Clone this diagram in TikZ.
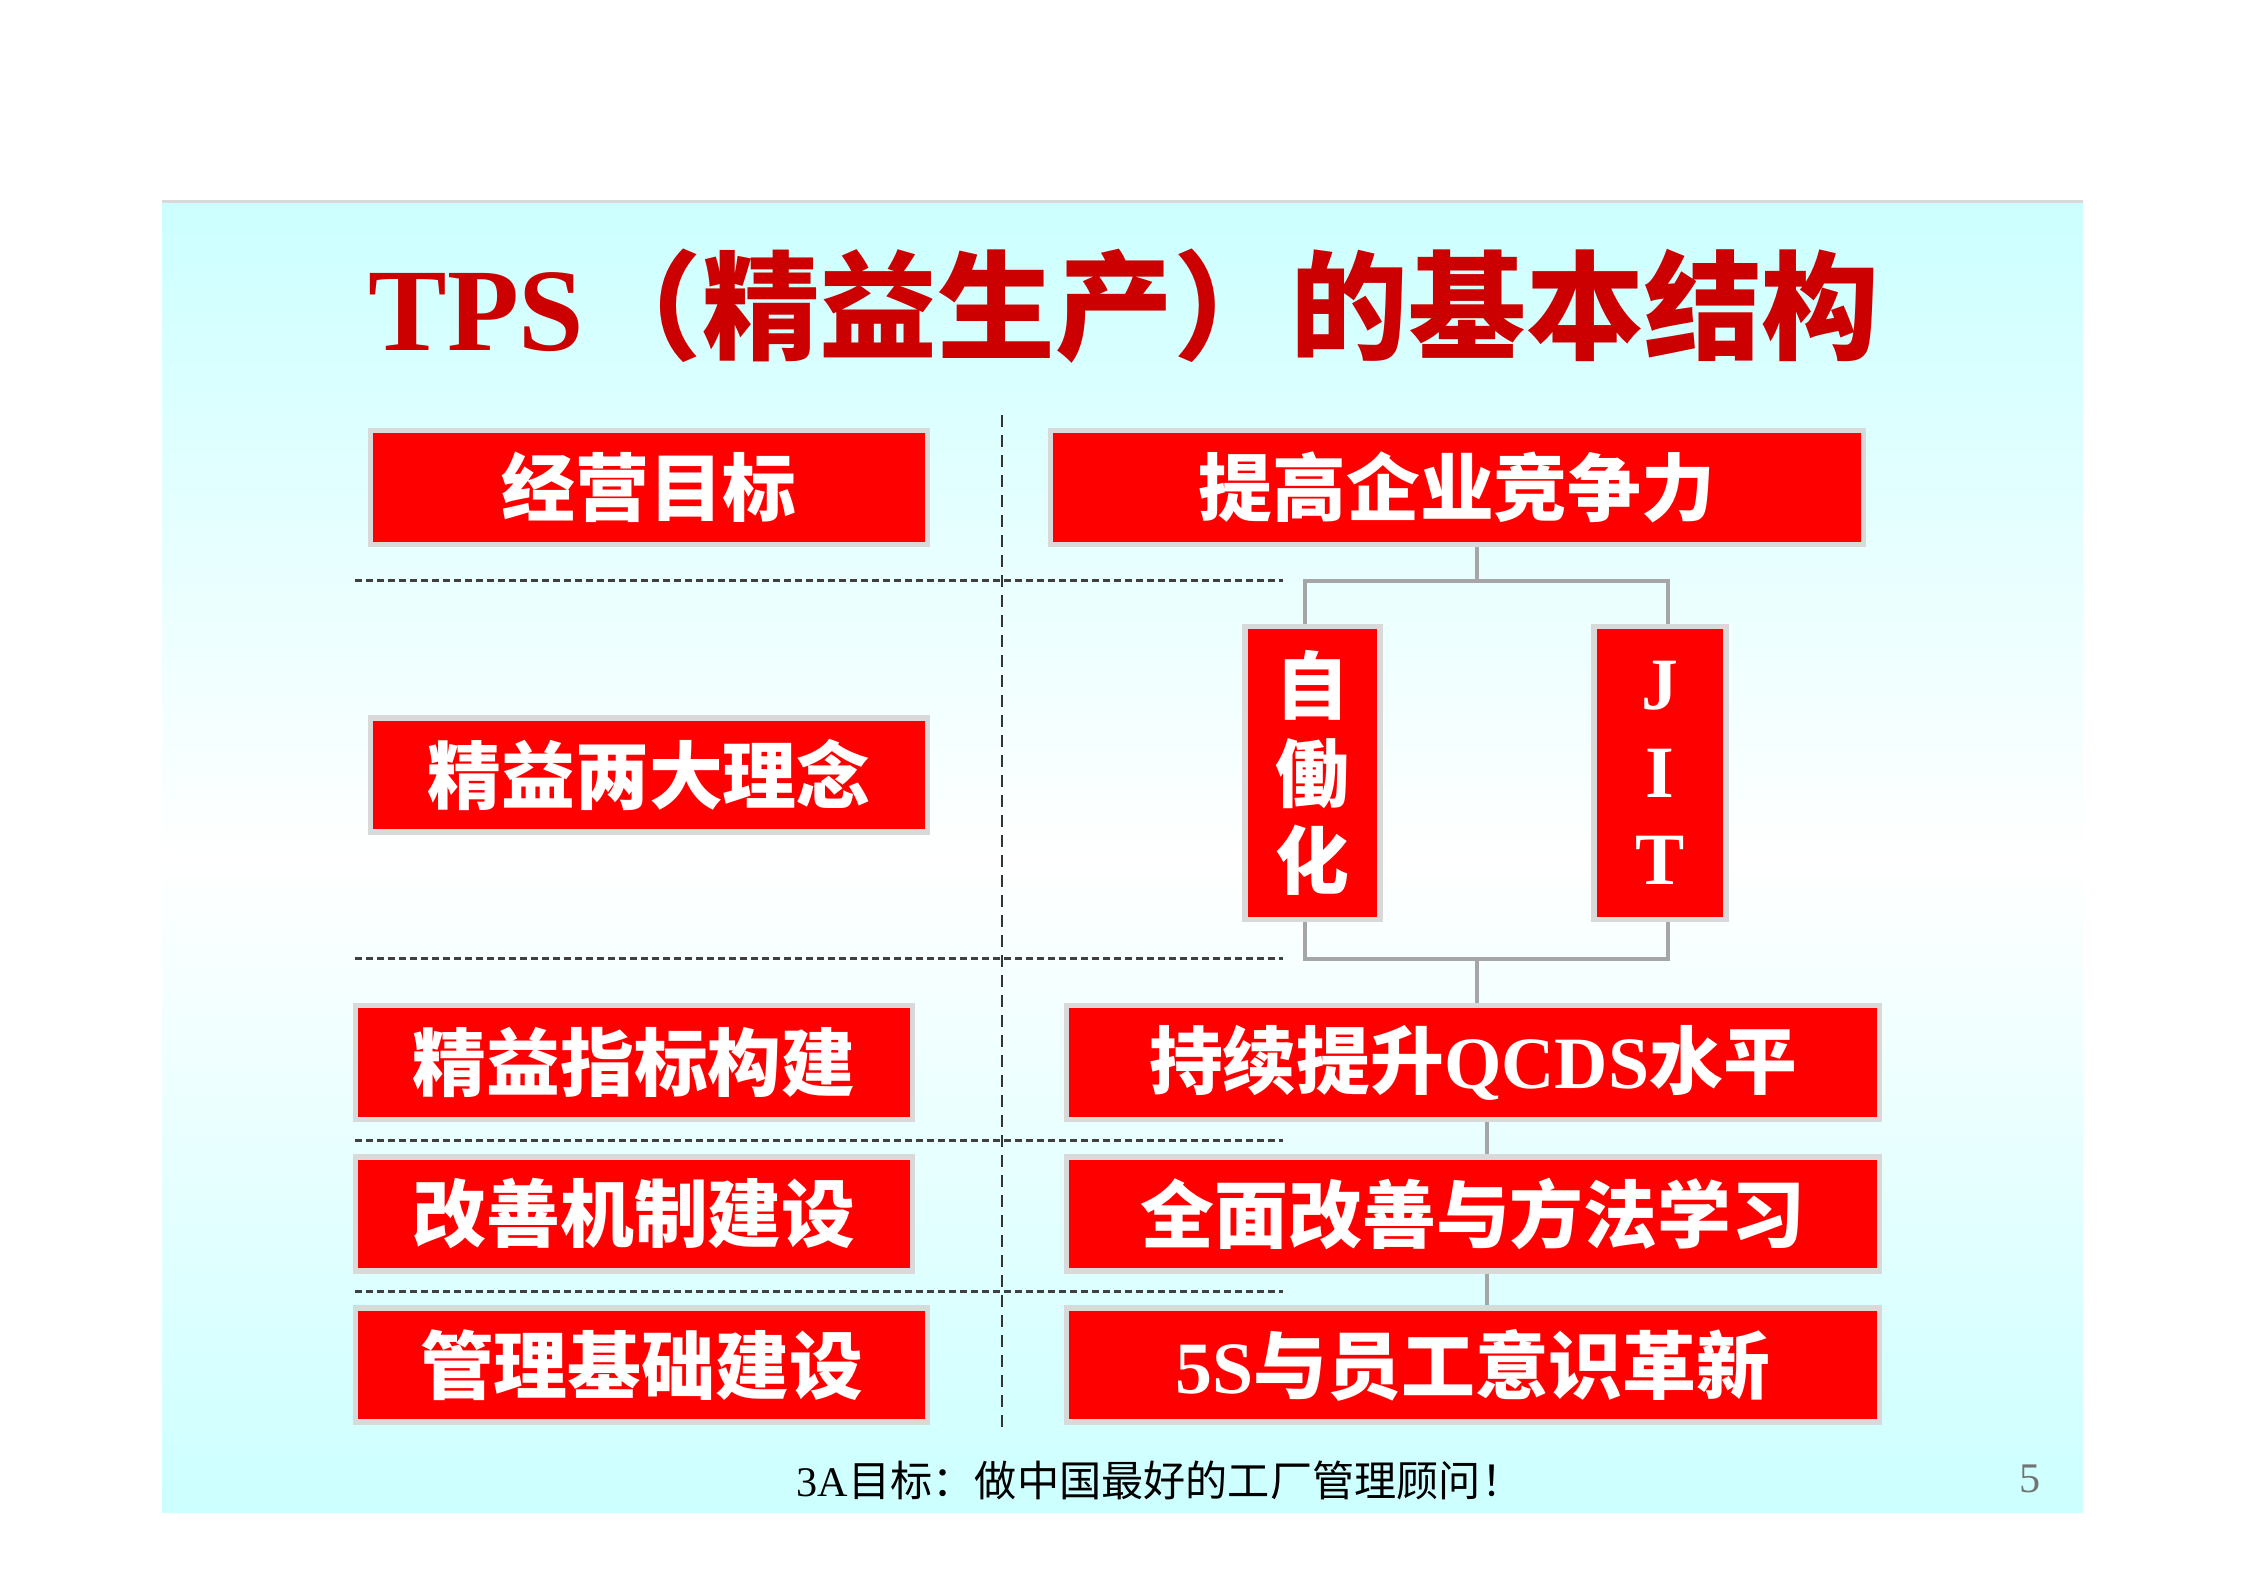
\documentclass[tikz,border=0pt]{standalone}
\usepackage{fontspec}
\setmainfont{Liberation Serif}
\newfontfamily\cjk{Noto Sans CJK SC}
\newfontfamily\lat{Liberation Serif}
\usetikzlibrary{calc}
\definecolor{boxred}{RGB}{255,0,0}
\definecolor{titlered}{RGB}{204,0,0}
\definecolor{framegray}{RGB}{217,217,217}
\definecolor{linkgray}{RGB}{166,166,166}
\definecolor{panelcyan}{RGB}{204,255,255}
\tikzset{
    redbox/.style = {rectangle,
                    fill=boxred,
                    draw=framegray,
                    line width=0.055cm,
                    text=white,
                    font={\cjk\bfseries\fontsize{21pt}{25pt}\selectfont},
                    inner sep=0pt},
    leftbox/.style = {redbox,
                    minimum width=5.57cm,
                    minimum height=1.14cm},
    rightbox/.style = {redbox,
                    minimum width=8.13cm,
                    minimum height=1.14cm},
    pillar/.style = {redbox,
                    align=center,
                    minimum width=1.35cm,
                    minimum height=2.93cm},
    link/.style =   {draw=linkgray,
                    line width=0.04cm},
    rowsep/.style = {draw=black!75,
                    line width=0.03cm,
                    dash pattern=on 0.07cm off 0.04cm},
    colsep/.style = {draw=black!80,
                    line width=0.02cm,
                    dash pattern=on 0.12cm off 0.08cm}}
\begin{document}
\begin{tikzpicture}
    \useasboundingbox (0,0) rectangle (22.42,15.86);
    \shade[top color=panelcyan,bottom color=panelcyan,middle color=white] (1.62,0.73) rectangle (20.83,13.84);
    \draw[framegray,line width=0.03cm] (1.62,13.84) -- (20.83,13.84);
    \node[text=titlered,font={\bfseries\fontsize{33.5pt}{38pt}\selectfont}] (title) at (11.24,12.80)
        {TPS{\cjk（精益生产）的基本结构}};
    \draw[colsep] (10.02,11.71) -- (10.02,1.56);
    \draw[rowsep] (3.55,10.05) -- (12.83,10.05);
    \draw[rowsep] (3.55,6.27) -- (12.83,6.27);
    \draw[rowsep] (3.55,4.45) -- (12.83,4.45);
    \draw[rowsep] (3.55,2.94) -- (12.83,2.94);
    \node[leftbox]              (goal) at (6.49,10.985)   {经营目标};
    \node[rightbox]             (compete) at (14.57,10.985) {提高企业竞争力};
    \node[leftbox]              (idea) at (6.49,8.11)     {精益两大理念};
    \node[pillar]               (jidoka) at (13.125,8.13) {自\\働\\化};
    \node[pillar,minimum width=1.32cm,font={\lat\bfseries\fontsize{21pt}{25pt}\selectfont}]
                                (jit) at (16.60,8.13)     {J\\I\\T};
    \node[leftbox]              (kpi) at (6.34,5.235)     {精益指标构建};
    \node[rightbox]             (qcds) at (14.73,5.235)   {持续提升{\lat QCDS}水平};
    \node[leftbox]              (mech) at (6.34,3.72)     {改善机制建设};
    \node[rightbox]             (kaizen) at (14.73,3.72)  {全面改善与方法学习};
    \node[leftbox,minimum width=5.72cm] (base) at (6.415,2.21) {管理基础建设};
    \node[rightbox]             (fives) at (14.73,2.21)   {{\lat 5S}与员工意识革新};
    \coordinate (upper) at (14.77,10.05);
    \coordinate (lower) at (14.77,6.27);
    \coordinate (stem) at (14.87,0);
    \coordinate (legL) at (13.05,0);
    \coordinate (legR) at (16.68,0);
    \draw[link] (jidoka.north -| legL) |- (upper) -| (jit.north -| legR);
    \draw[link] (upper) -- (upper |- compete.south);
    \draw[link] (jidoka.south -| legL) |- (lower) -| (jit.south -| legR);
    \draw[link] (lower) -- (lower |- qcds.north);
    \draw[link] (qcds.south -| stem) -- (kaizen.north -| stem);
    \draw[link] (kaizen.south -| stem) -- (fives.north -| stem);
    \node[font={\fontsize{12pt}{14pt}\selectfont}] (slogan) at (11.60,1.06)
        {3A{\cjk 目标：做中国最好的工厂管理顾问！}};
    \node[text=black!55,font={\fontsize{12pt}{14pt}\selectfont}] (page) at (20.30,1.07) {5};
\end{tikzpicture}
\end{document}
